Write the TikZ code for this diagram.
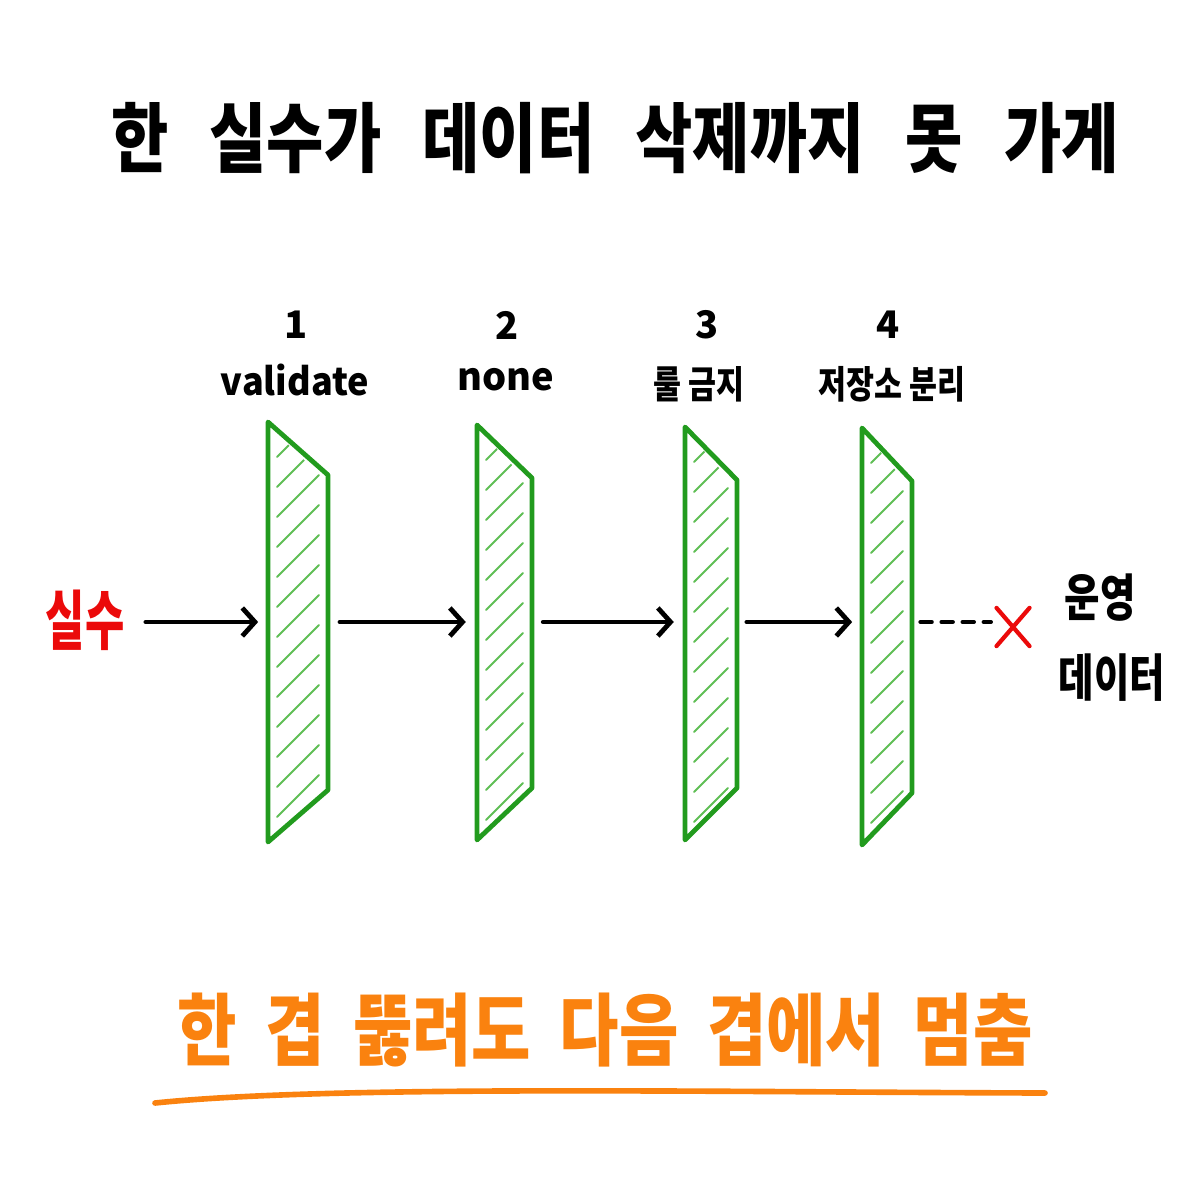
\documentclass[tikz,border=0pt]{standalone}
\usepackage{fontspec}
\setmainfont{Noto Sans CJK KR}
\usetikzlibrary{arrows.meta,shapes.misc}
\definecolor{laygreen}{RGB}{34,155,30}
\definecolor{hatchgreen}{RGB}{95,190,85}
\definecolor{mistred}{RGB}{235,10,10}
\definecolor{stoporange}{RGB}{250,130,15}
\newcommand\wordgap[1]{\spaceskip=#1\relax}

\begin{document}
\begin{tikzpicture}[x=0.025cm, y=-0.025cm, line cap=round, line join=round,
    >={Straight Barb[length=9pt, width=20pt]},
    flow/.style={->, line width=3.4pt, color=black},
    layer/.style={draw=laygreen, line width=3.4pt},
    hatch/.style={color=hatchgreen, line width=1.3pt},
    lab/.style={font=\bfseries\fontsize{27}{30}\selectfont}]
    \useasboundingbox (0,0) rectangle (1200,1200);
    \node[font=\bfseries\fontsize{54}{60}\selectfont, xscale=0.82] (title) at (615,138) {\wordgap{0.66em}한 실수가 데이터 삭제까지 못 가게};
    \foreach \n/\lx/\rx/\ty/\by in {1/268/328/422/842, 2/477/532/425/840, 3/685/737/427/840, 4/862/912/428/845} {
      \draw[layer] (\lx,\ty) -- (\rx,\ty+53) -- (\rx,\by-52) -- (\lx,\by) -- cycle;
      \begin{scope}
        \clip (\lx+5,\ty+8) -- (\rx-4,\ty+57) -- (\rx-4,\by-56) -- (\lx+5,\by-8) -- cycle;
        \foreach \k in {0,...,14}
          \draw[hatch] (\lx+9,\ty+35+\k*30) -- ++(\rx-\lx-18,-\rx+\lx+18);
      \end{scope}
      \coordinate (lay\n-in) at (\lx,622);
      \coordinate (lay\n-out) at (\rx,622);
    }
    \begin{scope}[lab]
      \node (num1) at (296,325) {1};
      \node[xscale=0.95] (name1) at (295,380) {validate};
      \node (num2) at (507,325) {2};
      \node (name2) at (506,380) {none};
      \node (num3) at (707,325) {3};
      \node[xscale=0.8] (name3) at (699,384) {룰 금지};
      \node (num4) at (888,325) {4};
      \node[xscale=0.8] (name4) at (892,384) {저장소 분리};
    \end{scope}
    \node[text=mistred, font=\bfseries\fontsize{46}{50}\selectfont, xscale=0.66] (mistake) at (85,620) {실수};
    \node[cross out, draw=mistred, line width=3pt, minimum width=0.72cm, minimum height=0.85cm, inner sep=0pt] (stop) at (1013,627) {};
    \node[font=\bfseries\fontsize{36}{40}\selectfont, xscale=0.76] (prod) at (1100,598) {운영};
    \node[font=\bfseries\fontsize{36}{40}\selectfont, xscale=0.76] (proddata) at (1112,678) {데이터};
    \draw[flow, shorten <=13pt, shorten >=7pt] (mistake.east |- lay1-in) -- (lay1-in);
    \draw[flow, shorten <=8.5pt, shorten >=8pt] (lay1-out) -- (lay2-in);
    \draw[flow, shorten <=8pt, shorten >=8pt] (lay2-out) -- (lay3-in);
    \draw[flow, shorten <=7pt, shorten >=7pt] (lay3-out) -- (lay4-in);
    \draw[line width=3pt, dash pattern=on 8pt off 7pt, shorten <=6pt, shorten >=4pt] (lay4-out) -- (stop.west |- lay4-out);
    \node[text=stoporange, font=\bfseries\fontsize{56}{60}\selectfont, xscale=0.82] (motto) at (605,1030) {\wordgap{0.44em}한 겹 뚫려도 다음 겹에서 멈춤};
    \draw[stoporange, line width=4pt] (155,1103) .. controls (330,1085) and (700,1092) .. (1045,1093);
\end{tikzpicture}
\end{document}
